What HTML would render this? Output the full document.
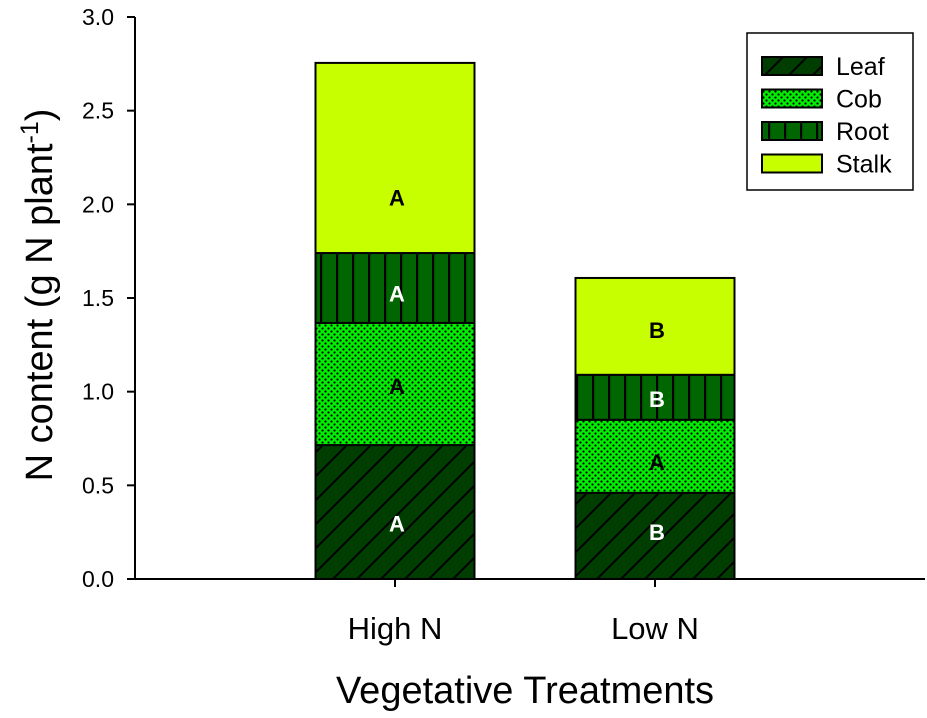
<!DOCTYPE html>
<html><head><meta charset="utf-8"><style>
body{margin:0;background:#fff}
svg{display:block;font-family:"Liberation Sans",Arial,sans-serif}
</style></head><body>
<svg id="chart" width="927" height="718" viewBox="0 0 927 718">
<defs>
<pattern id="pLeaf" patternUnits="userSpaceOnUse" width="24" height="24"><rect width="24" height="24" fill="#003d00"/><path d="M-6,30 L30,-6 M-18,18 L18,-18 M6,42 L42,6" stroke="#000" stroke-width="2"/></pattern>
<pattern id="pCob" patternUnits="userSpaceOnUse" width="6" height="6"><rect width="6" height="6" fill="#00ee00"/><circle cx="1.5" cy="1.5" r="1.1" fill="#000"/><circle cx="4.5" cy="4.5" r="1.1" fill="#000"/></pattern>
<pattern id="pRoot" patternUnits="userSpaceOnUse" width="16" height="16"><rect width="16" height="16" fill="#006600"/><rect x="0" width="2.2" height="16" fill="#000"/></pattern>
<pattern id="pStalk" patternUnits="userSpaceOnUse" width="10" height="10"><rect width="10" height="10" fill="#c8ff00"/></pattern>
</defs>
<g>
<rect x="747" y="33" width="166" height="157" fill="#fff" stroke="#000" stroke-width="1.5"/>
</g>
<g id="plot"></g>
<text transform="translate(52,295) rotate(-90)" text-anchor="middle" font-size="38">N content (g N plant<tspan dy="-14" font-size="25">-1</tspan><tspan dy="14">)</tspan></text>
<text x="525" y="703" text-anchor="middle" font-size="38">Vegetative Treatments</text>
</svg>
<script>
const categories=["High N","Low N"];
const seriesNames=["Leaf","Cob","Root","Stalk"];
const leaf=[0.715,0.46];
const cob=[0.652,0.39];
const root=[0.373,0.24];
const stalk=[1.015,0.517];
const letterLeaf=["A","B"];
const letterCob=["A","A"];
const letterRoot=["A","B"];
const letterStalk=["A","B"];
const yTicks=[0,0.5,1,1.5,2,2.5,3];
const yTickLabels=["0.0","0.5","1.0","1.5","2.0","2.5","3.0"];

const NS="http://www.w3.org/2000/svg";
const g=document.getElementById('plot');
const y0=579,y1=17,ymax=3;
const yS=v=>y0-(v/ymax)*(y0-y1);
const xS=i=>395+i*260;
const bw=159;
function mk(t,a,txt){const e=document.createElementNS(NS,t);for(const k in a)e.setAttribute(k,a[k]);if(txt!=null)e.textContent=txt;g.appendChild(e);return e;}
const fills=["url(#pLeaf)","url(#pCob)","url(#pRoot)","url(#pStalk)"];
const series=[leaf,cob,root,stalk];
const letters=[letterLeaf,letterCob,letterRoot,letterStalk];
const lcol=["#fff","#000","#fff","#000"];
const letterShift=[[-0.06,0.02],[-0.01,-0.03],[-0.03,-0.01],[-0.21,-0.02]];
categories.forEach((c,i)=>{
  let base=0;
  series.forEach((s,k)=>{
    const top=base+s[i];
    const r=mk('rect',{x:xS(i)-bw/2,y:yS(top),width:bw,height:yS(base)-yS(top),fill:fills[k],stroke:'#000','stroke-width':2});
    
    
    const t=mk('text',{x:xS(i)+2,y:yS((base+top)/2+letterShift[k][i])+8,'text-anchor':'middle','font-size':22,'font-weight':'bold',fill:lcol[k]},letters[k][i]);
    
    
    base=top;
  });
  const cl=mk('text',{x:xS(i),y:639,'text-anchor':'middle','font-size':31},c);
  
  
  mk('line',{x1:xS(i),x2:xS(i),y1:y0,y2:y0+8,stroke:'#000','stroke-width':2});
});
const ax=mk('path',{d:`M135,${y1} L135,${y0} L925,${y0}`,fill:'none',stroke:'#000','stroke-width':2});


yTicks.forEach((v,j)=>{
  mk('line',{x1:127,x2:135,y1:yS(v),y2:yS(v),stroke:'#000','stroke-width':2});
  const t=mk('text',{x:114,y:yS(v)+8,'text-anchor':'end','font-size':23},yTickLabels[j]);
  
  
});
seriesNames.forEach((n,k)=>{
  const cy=66+k*32.5;
  const r=mk('rect',{x:762,y:cy-9,width:60,height:18,fill:fills[k],stroke:'#000','stroke-width':2});
  
  
  const t=mk('text',{x:836,y:cy+9,'font-size':25},n);
  
  
});
</script>
</body></html>
